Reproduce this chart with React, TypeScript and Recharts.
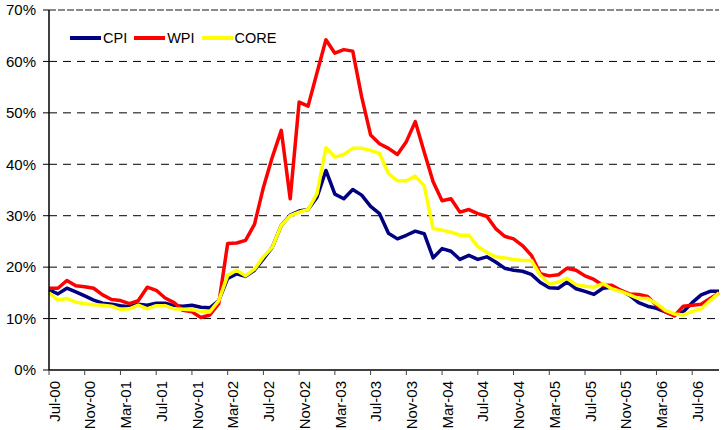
import React from 'react';
import { LineChart, Line, XAxis, YAxis, CartesianGrid, ReferenceLine } from 'recharts';

const months: string[] = [
  'Jul-00', 'Aug-00', 'Sep-00', 'Oct-00', 'Nov-00', 'Dec-00',
  'Jan-01', 'Feb-01', 'Mar-01', 'Apr-01', 'May-01', 'Jun-01', 'Jul-01', 'Aug-01', 'Sep-01', 'Oct-01', 'Nov-01', 'Dec-01',
  'Jan-02', 'Feb-02', 'Mar-02', 'Apr-02', 'May-02', 'Jun-02', 'Jul-02', 'Aug-02', 'Sep-02', 'Oct-02', 'Nov-02', 'Dec-02',
  'Jan-03', 'Feb-03', 'Mar-03', 'Apr-03', 'May-03', 'Jun-03', 'Jul-03', 'Aug-03', 'Sep-03', 'Oct-03', 'Nov-03', 'Dec-03',
  'Jan-04', 'Feb-04', 'Mar-04', 'Apr-04', 'May-04', 'Jun-04', 'Jul-04', 'Aug-04', 'Sep-04', 'Oct-04', 'Nov-04', 'Dec-04',
  'Jan-05', 'Feb-05', 'Mar-05', 'Apr-05', 'May-05', 'Jun-05', 'Jul-05', 'Aug-05', 'Sep-05', 'Oct-05', 'Nov-05', 'Dec-05',
  'Jan-06', 'Feb-06', 'Mar-06', 'Apr-06', 'May-06', 'Jun-06', 'Jul-06', 'Aug-06', 'Sep-06', 'Oct-06',
];

const cpi: number[] = [
  15.6, 14.8, 15.9, 15.2, 14.4, 13.6,
  13.0, 12.8, 12.5, 12.3, 12.8, 12.6, 13.0, 13.0, 12.5, 12.4, 12.6, 12.2,
  12.1, 13.5, 17.8, 18.7, 18.2, 19.4, 21.6, 23.9, 28.1, 30.1, 30.9, 31.2,
  33.6, 38.8, 34.2, 33.3, 35.1, 34.0, 31.8, 30.4, 26.6, 25.5, 26.2, 27.0,
  26.5, 21.8, 23.6, 23.1, 21.5, 22.3, 21.5, 22.0, 21.0, 19.8, 19.4, 19.2,
  18.6, 17.0, 16.0, 15.9, 17.1, 15.8, 15.3, 14.7, 15.9, 16.1, 15.5, 14.5,
  13.1, 12.4, 12.0, 11.3, 10.7, 11.3, 13.1, 14.6, 15.3, 15.3,
];

const wpi: number[] = [
  15.9, 15.9, 17.4, 16.4, 16.2, 15.9,
  14.6, 13.7, 13.5, 12.9, 13.5, 16.1, 15.5, 14.0, 13.1, 11.6, 11.3, 10.2,
  10.7, 12.9, 24.6, 24.7, 25.2, 28.3, 35.5, 41.4, 46.6, 33.3, 52.1, 51.3,
  57.8, 64.2, 61.6, 62.3, 62.0, 53.1, 45.7, 44.0, 43.1, 41.9, 44.4, 48.3,
  42.4, 36.6, 32.9, 33.3, 30.7, 31.2, 30.4, 29.9, 27.5, 26.0, 25.5, 24.2,
  22.3, 18.7, 18.3, 18.5, 19.8, 19.4, 18.3, 17.6, 16.5, 16.5, 15.5, 14.8,
  14.7, 14.3, 12.6, 11.3, 10.5, 12.4, 12.6, 12.8, 13.9, 15.0,
];

const core: number[] = [
  15.0, 13.6, 13.9, 13.2, 12.9, 12.7,
  12.6, 12.4, 11.8, 11.9, 12.6, 11.9, 12.5, 12.5, 11.9, 11.8, 11.7, 11.4,
  11.3, 13.5, 18.4, 19.4, 18.3, 19.6, 22.0, 23.9, 28.1, 30.0, 30.7, 31.2,
  34.3, 43.2, 41.4, 41.9, 43.1, 43.1, 42.7, 42.1, 38.2, 36.8, 36.8, 37.7,
  35.8, 27.5, 27.2, 26.8, 26.2, 26.2, 24.0, 22.9, 22.0, 21.8, 21.5, 21.3,
  21.3, 18.4, 16.7, 17.1, 17.8, 16.6, 16.3, 16.1, 16.8, 15.8, 15.3, 14.6,
  13.9, 13.9, 12.9, 11.6, 10.9, 10.7, 11.4, 11.9, 13.5, 15.0,
];

const yTicks: number[] = [0, 10, 20, 30, 40, 50, 60, 70];

const seriesNames = ['CPI', 'WPI', 'CORE'];
const seriesColors = ['#000080', '#FF0000', '#FFFF00'];

const data = months.map((m, i) => ({ month: m, CPI: cpi[i], WPI: wpi[i], CORE: core[i] }));

const FONT = '"Liberation Sans", Arial, sans-serif';

const LegendBox = () => (
  <div style={{ position: 'absolute', left: 70, top: 29, display: 'flex', alignItems: 'center', fontFamily: FONT, fontSize: 14.5, color: '#000', lineHeight: '18px' }}>
    {seriesNames.map((n, i) => (
      <div key={n} style={{ display: 'flex', alignItems: 'center', marginRight: 7 }}>
        <div style={{ width: 31, height: 4, background: seriesColors[i], marginRight: 2 }} />
        <span>{n}</span>
      </div>
    ))}
  </div>
);

export default function App() {
  return (
    <div style={{ position: 'absolute', left: 0, top: 0, width: 722, height: 430, background: '#fff' }}>
      <LineChart width={722} height={430} data={data} margin={{ top: 10, right: 3, left: 0, bottom: 0 }}>
        <CartesianGrid vertical={false} stroke="#000" strokeDasharray="8 6" horizontalValues={[10, 20, 30, 40, 50, 60]} />
        <ReferenceLine y={70} stroke="#8a8a8a" strokeWidth={2} strokeDasharray="7 2" />
        <XAxis
          dataKey="month"
          interval={3}
          height={60}
          tickSize={5}
          tickMargin={6}
          axisLine={{ stroke: '#404040', strokeWidth: 2 }}
          tickLine={{ stroke: '#404040' }}
          tick={{ angle: -90, textAnchor: 'end', fill: '#000', fontSize: 15, fontFamily: FONT }}
        />
        <YAxis
          type="number"
          domain={[0, 70]}
          ticks={yTicks}
          width={49}
          tickSize={6}
          tickMargin={7}
          tickFormatter={(v: number) => `${v}%`}
          axisLine={{ stroke: '#000', strokeWidth: 1.5 }}
          tickLine={{ stroke: '#000' }}
          tick={{ fill: '#000', fontSize: 15, fontFamily: FONT }}
        />
        {seriesNames.map((n, i) => (
          <Line
            key={n}
            type="linear"
            dataKey={n}
            stroke={seriesColors[i]}
            strokeWidth={3.5}
            dot={false}
            isAnimationActive={false}
            strokeLinejoin="round"
          />
        ))}
      </LineChart>
      <LegendBox />
    </div>
  );
}
